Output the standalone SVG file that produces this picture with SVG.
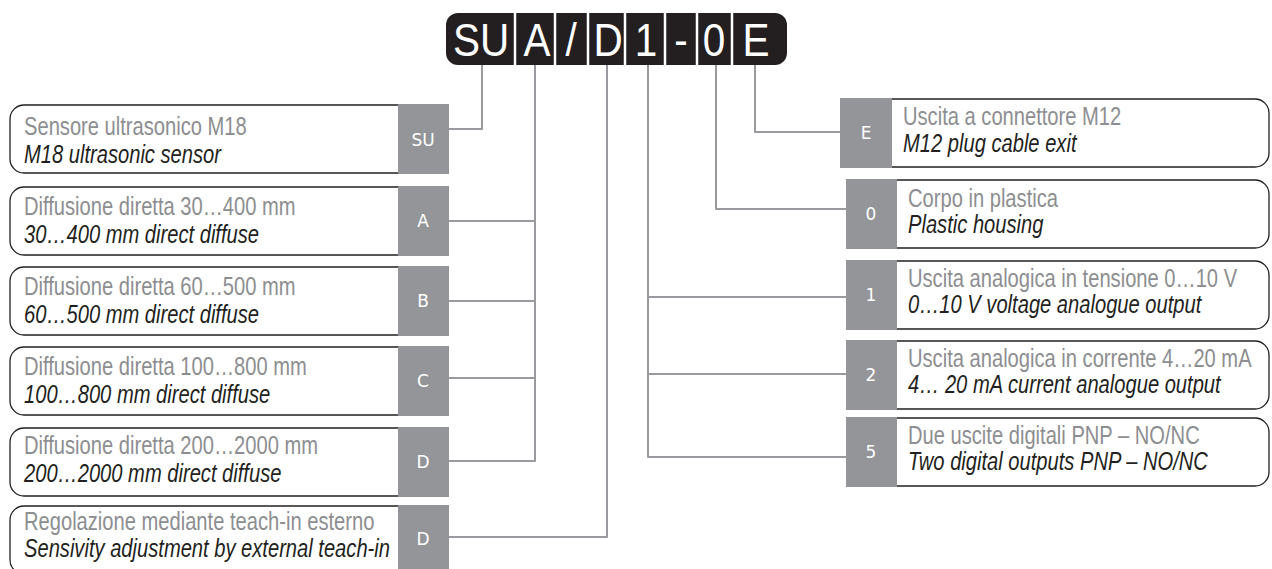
<svg xmlns="http://www.w3.org/2000/svg" width="1272" height="569" viewBox="0 0 1272 569">
<style>
.bg{fill:#ffffff}
.box{fill:#ffffff;stroke:#231f20;stroke-width:1.3}
.code{fill:#939598}
.cl{fill:#ffffff;font-family:"DejaVu Sans",sans-serif;font-size:17px;text-anchor:middle}
.it{fill:#8d8e91;font-family:"Liberation Sans",Arial,sans-serif;font-size:25px}
.en{fill:#231f20;font-family:"Liberation Sans",Arial,sans-serif;font-size:25px;font-style:italic}
.bar{fill:#231f20}
.bl{fill:#ffffff;font-family:"Liberation Sans",Arial,sans-serif;font-size:46px;text-anchor:middle}
.div{stroke:#ffffff;stroke-width:2.5}
.conn{fill:none;stroke:#999a9e;stroke-width:2;stroke-linejoin:round}
</style>
<rect class="bg" x="0" y="0" width="1272" height="569"/>

<g id="code-bar">
  <rect class="bar" x="446" y="13" width="341" height="52" rx="12"/>
  <line class="div" x1="515" y1="13" x2="515" y2="65"/>
  <line class="div" x1="555" y1="13" x2="555" y2="65"/>
  <line class="div" x1="588" y1="13" x2="588" y2="65"/>
  <line class="div" x1="625" y1="13" x2="625" y2="65"/>
  <line class="div" x1="665" y1="13" x2="665" y2="65"/>
  <line class="div" x1="697" y1="13" x2="697" y2="65"/>
  <line class="div" x1="732" y1="13" x2="732" y2="65"/>
  <g transform="translate(481,56) scale(0.88,1)"><text class="bl" x="0" y="0">SU</text></g>
  <g transform="translate(537,56) scale(0.88,1)"><text class="bl" x="0" y="0">A</text></g>
  <g transform="translate(571,56) scale(0.88,1)"><text class="bl" x="0" y="0">/</text></g>
  <g transform="translate(608,56) scale(0.88,1)"><text class="bl" x="0" y="0">D</text></g>
  <g transform="translate(646,56) scale(0.88,1)"><text class="bl" x="0" y="0">1</text></g>
  <g transform="translate(681,56) scale(0.88,1)"><text class="bl" x="0" y="0">-</text></g>
  <g transform="translate(714,56) scale(0.88,1)"><text class="bl" x="0" y="0">0</text></g>
  <g transform="translate(756,56) scale(0.88,1)"><text class="bl" x="0" y="0">E</text></g>
</g>

<g id="connectors">
  <path class="conn" d="M482 65 V129 H449"/>
  <path class="conn" d="M535 65 V461 H449"/>
  <path class="conn" d="M535 221 H449"/>
  <path class="conn" d="M535 301 H449"/>
  <path class="conn" d="M535 378 H449"/>
  <path class="conn" d="M607 65 V537 H449"/>
  <path class="conn" d="M648 65 V457 H846"/>
  <path class="conn" d="M648 297 H846"/>
  <path class="conn" d="M648 374 H846"/>
  <path class="conn" d="M716 65 V209 H846"/>
  <path class="conn" d="M755 65 V132 H840"/>
</g>

<g id="node-su">
  <path class="box" d="M398 105 H24 A14 14 0 0 0 10 119 V159 A14 14 0 0 0 24 173 H398"/>
  <rect class="code" x="398" y="104" width="51" height="70"/>
  <text class="cl" x="423" y="146">SU</text>
  <g transform="translate(24,135) scale(0.806,1)">
    <text class="it" x="0" y="0">Sensore ultrasonico M18</text>
    <text class="en" x="0" y="28">M18 ultrasonic sensor</text>
  </g>
</g>

<g id="node-a">
  <path class="box" d="M398 187 H24 A14 14 0 0 0 10 201 V241 A14 14 0 0 0 24 255 H398"/>
  <rect class="code" x="398" y="186" width="51" height="70"/>
  <text class="cl" x="423" y="227">A</text>
  <g transform="translate(24,215) scale(0.806,1)">
    <text class="it" x="0" y="0">Diffusione diretta 30…400 mm</text>
    <text class="en" x="0" y="28">30…400 mm direct diffuse</text>
  </g>
</g>

<g id="node-b">
  <path class="box" d="M398 267 H24 A14 14 0 0 0 10 281 V321 A14 14 0 0 0 24 335 H398"/>
  <rect class="code" x="398" y="266" width="51" height="70"/>
  <text class="cl" x="423" y="307">B</text>
  <g transform="translate(24,295) scale(0.806,1)">
    <text class="it" x="0" y="0">Diffusione diretta 60…500 mm</text>
    <text class="en" x="0" y="28">60…500 mm direct diffuse</text>
  </g>
</g>

<g id="node-c">
  <path class="box" d="M398 347 H24 A14 14 0 0 0 10 361 V401 A14 14 0 0 0 24 415 H398"/>
  <rect class="code" x="398" y="346" width="51" height="70"/>
  <text class="cl" x="423" y="387">C</text>
  <g transform="translate(24,375) scale(0.806,1)">
    <text class="it" x="0" y="0">Diffusione diretta 100…800 mm</text>
    <text class="en" x="0" y="28">100…800 mm direct diffuse</text>
  </g>
</g>

<g id="node-d">
  <path class="box" d="M398 428 H24 A14 14 0 0 0 10 442 V482 A14 14 0 0 0 24 496 H398"/>
  <rect class="code" x="398" y="427" width="51" height="70"/>
  <text class="cl" x="423" y="468">D</text>
  <g transform="translate(24,454) scale(0.806,1)">
    <text class="it" x="0" y="0">Diffusione diretta 200…2000 mm</text>
    <text class="en" x="0" y="28">200…2000 mm direct diffuse</text>
  </g>
</g>

<g id="node-d-teach">
  <path class="box" d="M398 506 H24 A14 14 0 0 0 10 520 V560 A14 14 0 0 0 24 574 H398"/>
  <rect class="code" x="398" y="505" width="51" height="70"/>
  <text class="cl" x="423" y="545">D</text>
  <g transform="translate(24,530) scale(0.806,1)">
    <text class="it" x="0" y="0">Regolazione mediante teach-in esterno</text>
    <text class="en" x="0" y="27">Sensivity adjustment by external teach-in</text>
  </g>
</g>

<g id="node-e">
  <path class="box" d="M892 99 H1255 A14 14 0 0 1 1269 113 V153 A14 14 0 0 1 1255 167 H892"/>
  <rect class="code" x="840" y="98" width="52" height="70"/>
  <text class="cl" x="866" y="139">E</text>
  <g transform="translate(903,125) scale(0.806,1)">
    <text class="it" x="0" y="0">Uscita a connettore M12</text>
    <text class="en" x="0" y="27">M12 plug cable exit</text>
  </g>
</g>

<g id="node-0">
  <path class="box" d="M897 180 H1255 A14 14 0 0 1 1269 194 V234 A14 14 0 0 1 1255 248 H897"/>
  <rect class="code" x="846" y="179" width="51" height="70"/>
  <text class="cl" x="871" y="220">0</text>
  <g transform="translate(908,207) scale(0.806,1)">
    <text class="it" x="0" y="0">Corpo in plastica</text>
    <text class="en" x="0" y="26">Plastic housing</text>
  </g>
</g>

<g id="node-1">
  <path class="box" d="M897 261 H1255 A14 14 0 0 1 1269 275 V315 A14 14 0 0 1 1255 329 H897"/>
  <rect class="code" x="846" y="260" width="51" height="70"/>
  <text class="cl" x="871" y="301">1</text>
  <g transform="translate(908,287) scale(0.806,1)">
    <text class="it" x="0" y="0">Uscita analogica in tensione 0…10 V</text>
    <text class="en" x="0" y="26">0…10 V voltage analogue output</text>
  </g>
</g>

<g id="node-2">
  <path class="box" d="M897 341 H1255 A14 14 0 0 1 1269 355 V395 A14 14 0 0 1 1255 409 H897"/>
  <rect class="code" x="846" y="340" width="51" height="70"/>
  <text class="cl" x="871" y="381">2</text>
  <g transform="translate(908,367) scale(0.806,1)">
    <text class="it" x="0" y="0">Uscita analogica in corrente 4…20 mA</text>
    <text class="en" x="0" y="26">4… 20 mA current analogue output</text>
  </g>
</g>

<g id="node-5">
  <path class="box" d="M897 418 H1255 A14 14 0 0 1 1269 432 V472 A14 14 0 0 1 1255 486 H897"/>
  <rect class="code" x="846" y="417" width="51" height="70"/>
  <text class="cl" x="871" y="458">5</text>
  <g transform="translate(908,444) scale(0.806,1)">
    <text class="it" x="0" y="0">Due uscite digitali PNP – NO/NC</text>
    <text class="en" x="0" y="26">Two digital outputs PNP – NO/NC</text>
  </g>
</g>
</svg>
